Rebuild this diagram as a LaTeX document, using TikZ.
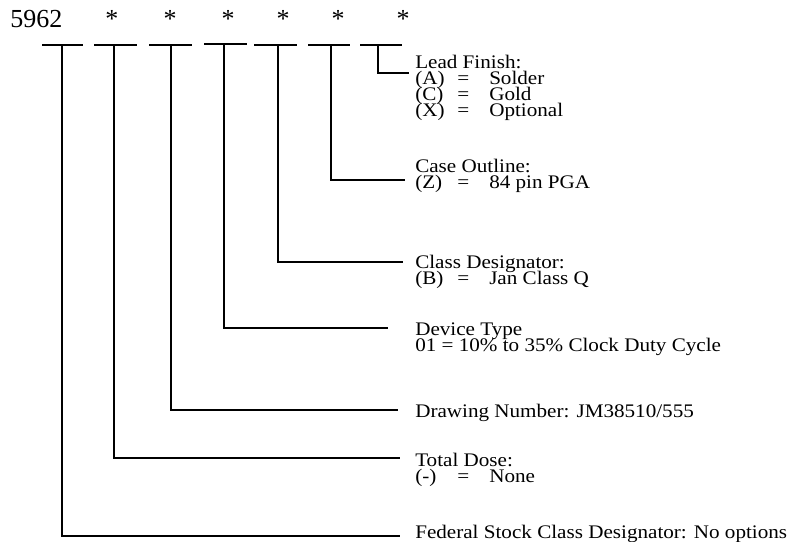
\documentclass[tikz,border=0pt]{standalone}
\usepackage{fontspec}
\setmainfont{Liberation Serif}
\newfontfamily\lblfont{Liberation Serif}[FakeStretch=1.1]
\newcommand{\optrow}[3]{\hbox{\makebox[31.5pt][l]{#1}\makebox[24pt][l]{#2}#3}}
\newcommand{\twolines}[1]{\vtop{\lineskiplimit=-100pt\baselineskip=12pt #1}}
\begin{document}
\begin{tikzpicture}[x=0.75pt,y=-0.75pt,
  lbl/.style={anchor=base west, inner sep=0pt, font=\lblfont\fontsize{14.4}{12}\selectfont},
  head/.style={anchor=base, inner sep=0pt, font=\fontsize{19.5}{22}\selectfont},
  bar/.style={line width=1.5pt},
  leader/.style={line width=1.5pt}]
\useasboundingbox (0,0) rectangle (794,542);
% header
\node[head, anchor=base west] (num) at (10,28) {5962};
\node[head] (s1) at (112,28) {*};
\node[head] (s2) at (170,28) {*};
\node[head] (s3) at (228,28) {*};
\node[head] (s4) at (283,28) {*};
\node[head] (s5) at (338,28) {*};
\node[head] (s6) at (403,28) {*};
% bars
\draw[bar] (42,45) -- (83,45);
\draw[bar] (94,45) -- (137,45);
\draw[bar] (149,45) -- (192,45);
\draw[bar] (204,44) -- (247,44);
\draw[bar] (254,45) -- (297,45);
\draw[bar] (308,45) -- (350,45);
\draw[bar] (360,45) -- (402,45);
\coordinate (t1) at (62,45);
\coordinate (t2) at (114,45);
\coordinate (t3) at (171,45);
\coordinate (t4) at (224,44);
\coordinate (t5) at (278,45);
\coordinate (t6) at (331,45);
\coordinate (t7) at (378,45);
% labels
\node[lbl] (l7) at (415,69) {\twolines{\hbox{Lead Finish:}\optrow{(A)}{=}{Solder}\optrow{(C)}{=}{Gold}\optrow{(X)}{=}{Optional}}};
\node[lbl] (l6) at (415,173) {\twolines{\hbox{Case Outline:}\optrow{(Z)}{=}{84 pin PGA}}};
\node[lbl] (l5) at (415,268) {\twolines{\hbox{Class Designator:}\optrow{(B)}{=}{Jan Class Q}}};
\node[lbl] (l4) at (415,335) {\twolines{\hbox{Device Type}\hbox{01 = 10\% to 35\% Clock Duty Cycle}}};
\node[lbl] (l3) at (415,417) {Drawing Number: JM38510/555};
\node[lbl] (l2) at (415,466) {\twolines{\hbox{Total Dose:}\optrow{(-)}{=}{None}}};
\node[lbl] (l1) at (415,538) {Federal Stock Class Designator: No options};
% leader ends
\coordinate (e7) at (409,73);
\coordinate (e6) at (405,180);
\coordinate (e5) at (403,262);
\coordinate (e4) at (388,328);
\coordinate (e3) at (398,410);
\coordinate (e2) at (400,458);
\coordinate (e1) at (400,536);
\foreach \i in {1,...,7} {\draw[leader] (t\i) |- (e\i);}
\end{tikzpicture}
\end{document}
